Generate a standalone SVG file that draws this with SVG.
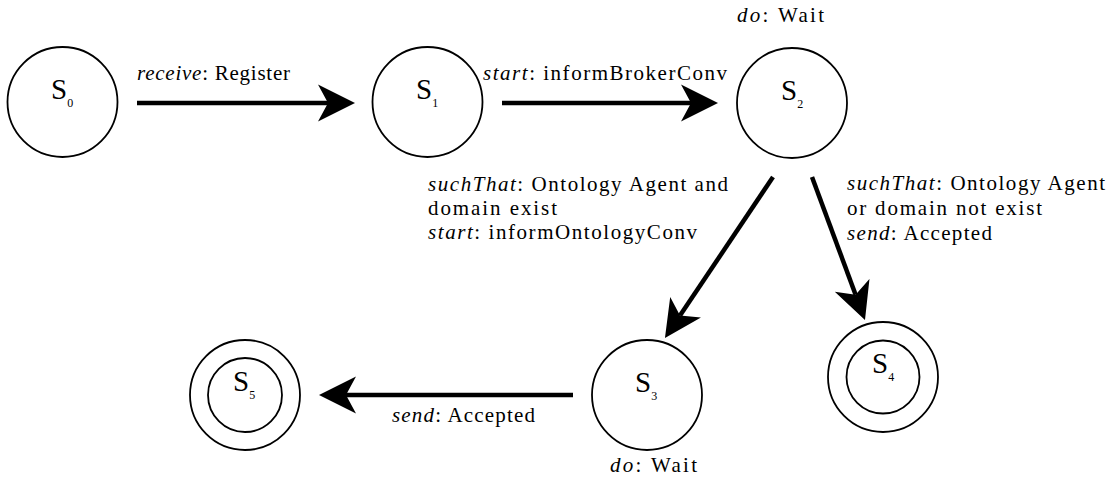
<svg xmlns="http://www.w3.org/2000/svg" width="1113" height="489" viewBox="0 0 1113 489">
<style>
.st{fill:#fff;stroke:#000;stroke-width:1.8}
.nm{font-size:29px;fill:#000}
.sb{font-size:12px}
.lb{font-size:21px;fill:#000}
.it{font-style:italic}
.ed{stroke:#000;stroke-width:4.5;fill:none;marker-end:url(#ah)}
</style>
<defs>
<marker id="ah" markerUnits="userSpaceOnUse" viewBox="0 -20 40 40" markerWidth="40" markerHeight="40" refX="10" refY="0" orient="auto">
<path d="M37,0 L0,-18.5 L10,0 L0,18.5 Z" fill="#000"/>
</marker>
</defs>
<rect width="1113" height="489" fill="#fff"/>
<g id="edges">
<line class="ed" x1="137" y1="103" x2="328" y2="103"/>
<line class="ed" x1="502" y1="103" x2="691" y2="103"/>
<line class="ed" x1="773" y1="177" x2="680" y2="315.6"/>
<line class="ed" x1="812" y1="177" x2="855.6" y2="294.7"/>
<line class="ed" x1="573" y1="395" x2="346" y2="395"/>
</g>
<g id="labels" font-family="Liberation Serif, Times New Roman, Times, serif">
<text class="lb" x="137" y="80" textLength="153" lengthAdjust="spacing"><tspan class="it">receive</tspan>: Register</text>
<text class="lb" x="483" y="80" textLength="244" lengthAdjust="spacing"><tspan class="it">start</tspan>: informBrokerConv</text>
<text class="lb" x="428" y="191" textLength="300" lengthAdjust="spacing"><tspan class="it">suchThat</tspan>: Ontology Agent and</text>
<text class="lb" x="428" y="215" textLength="129" lengthAdjust="spacing">domain exist</text>
<text class="lb" x="428" y="239" textLength="269" lengthAdjust="spacing"><tspan class="it">start</tspan>: informOntologyConv</text>
<text class="lb" x="847" y="190" textLength="258" lengthAdjust="spacing"><tspan class="it">suchThat</tspan>: Ontology Agent</text>
<text class="lb" x="847" y="215" textLength="195" lengthAdjust="spacing">or domain not exist</text>
<text class="lb" x="847" y="240" textLength="145" lengthAdjust="spacing"><tspan class="it">send</tspan>: Accepted</text>
<text class="lb" x="392" y="422" textLength="143" lengthAdjust="spacing"><tspan class="it">send</tspan>: Accepted</text>
</g>
<g id="S0" font-family="Liberation Serif, Times New Roman, Times, serif">
<circle class="st" cx="62.5" cy="102" r="55"/>
<text class="nm" x="51" y="99">S<tspan class="sb" dy="8">0</tspan></text>
</g>
<g id="S1" font-family="Liberation Serif, Times New Roman, Times, serif">
<circle class="st" cx="427.5" cy="102" r="55"/>
<text class="nm" x="416" y="99">S<tspan class="sb" dy="8">1</tspan></text>
</g>
<g id="S2" font-family="Liberation Serif, Times New Roman, Times, serif">
<circle class="st" cx="792" cy="103" r="55"/>
<text class="nm" x="781" y="100">S<tspan class="sb" dy="8">2</tspan></text>
<text class="lb" x="737" y="22" textLength="87" lengthAdjust="spacing"><tspan class="it">do</tspan>: Wait</text>
</g>
<g id="S3" font-family="Liberation Serif, Times New Roman, Times, serif">
<circle class="st" cx="647" cy="395" r="55"/>
<text class="nm" x="635" y="392">S<tspan class="sb" dy="8">3</tspan></text>
<text class="lb" x="610" y="472" textLength="87" lengthAdjust="spacing"><tspan class="it">do</tspan>: Wait</text>
</g>
<g id="S4" font-family="Liberation Serif, Times New Roman, Times, serif">
<circle class="st" cx="883" cy="377" r="55"/>
<circle class="st" cx="883" cy="377" r="36.5"/>
<text class="nm" x="872" y="373">S<tspan class="sb" dy="8">4</tspan></text>
</g>
<g id="S5" font-family="Liberation Serif, Times New Roman, Times, serif">
<circle class="st" cx="245" cy="395" r="55"/>
<circle class="st" cx="245" cy="395" r="37"/>
<text class="nm" x="233" y="391">S<tspan class="sb" dy="8">5</tspan></text>
</g>
</svg>
